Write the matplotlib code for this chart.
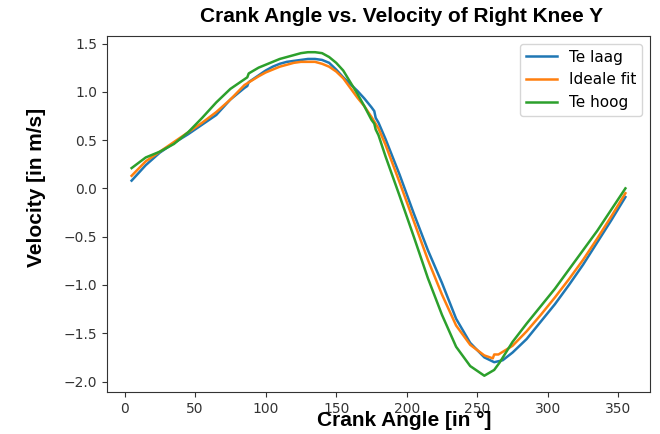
import matplotlib
matplotlib.use("Agg")
import matplotlib.pyplot as plt

# crank angle [deg] and knee velocity [m/s]
angle_laag = [5, 15, 25, 35, 45, 55, 65, 75, 85, 87, 88, 95, 100, 105, 110, 115, 120,
              125, 130, 135, 140, 145, 150, 155, 160, 165, 170, 175, 177, 178, 180,
              185, 195, 205, 215, 225, 235, 245, 255, 262, 268, 275, 285, 295, 305,
              315, 325, 335, 345, 355]
vel_laag = [0.08, 0.24, 0.37, 0.47, 0.56, 0.66, 0.76, 0.92, 1.04, 1.06, 1.10, 1.17,
            1.22, 1.26, 1.29, 1.31, 1.32, 1.33, 1.34, 1.34, 1.33, 1.30, 1.23, 1.15,
            1.08, 1.01, 0.93, 0.84, 0.80, 0.73, 0.68, 0.51, 0.14, -0.26, -0.64,
            -0.98, -1.35, -1.60, -1.75, -1.80, -1.78, -1.70, -1.56, -1.38, -1.20,
            -1.00, -0.79, -0.56, -0.33, -0.09]

angle_ideaal = [5, 15, 25, 35, 45, 55, 65, 75, 85, 95, 100, 105, 110, 115, 120, 125,
                130, 135, 140, 145, 150, 155, 160, 165, 170, 175, 180, 185, 195, 205,
                215, 225, 235, 245, 255, 261, 262, 265, 275, 285, 295, 305, 315, 325,
                335, 345, 355]
vel_ideaal = [0.13, 0.28, 0.38, 0.48, 0.58, 0.68, 0.79, 0.92, 1.07, 1.16, 1.20, 1.23,
              1.26, 1.28, 1.30, 1.31, 1.31, 1.31, 1.29, 1.26, 1.21, 1.14, 1.04, 0.94,
              0.85, 0.74, 0.62, 0.45, 0.06, -0.34, -0.74, -1.10, -1.42, -1.62,
              -1.73, -1.76, -1.72, -1.72, -1.63, -1.48, -1.31, -1.13, -0.94, -0.74,
              -0.52, -0.29, -0.05]

angle_hoog = [5, 15, 25, 35, 45, 55, 65, 75, 85, 87, 88, 95, 100, 105, 110, 115, 120,
              125, 130, 135, 140, 145, 150, 155, 160, 165, 170, 175, 177, 178, 180,
              185, 195, 205, 215, 225, 235, 245, 255, 262, 266, 275, 285, 295, 305,
              315, 325, 335, 345, 355]
vel_hoog = [0.21, 0.32, 0.38, 0.46, 0.58, 0.73, 0.89, 1.03, 1.13, 1.15, 1.19, 1.25,
            1.28, 1.31, 1.34, 1.36, 1.38, 1.40, 1.41, 1.41, 1.40, 1.36, 1.30, 1.22,
            1.10, 0.98, 0.85, 0.71, 0.67, 0.61, 0.55, 0.33, -0.08, -0.50, -0.93,
            -1.31, -1.64, -1.84, -1.94, -1.88, -1.80, -1.59, -1.40, -1.22, -1.04,
            -0.84, -0.64, -0.44, -0.22, 0.00]

labels = ["Te laag", "Ideale fit", "Te hoog"]

fig = plt.figure(figsize=(6.6, 4.34), dpi=100)
ax = fig.add_axes([0.162, 0.097, 0.823, 0.820])

ax.plot(angle_laag, vel_laag, color="#1f77b4", lw=1.8, label=labels[0])
ax.plot(angle_ideaal, vel_ideaal, color="#ff7f0e", lw=1.8, label=labels[1])
ax.plot(angle_hoog, vel_hoog, color="#2ca02c", lw=1.8, label=labels[2])

ax.set_xticks([0, 50, 100, 150, 200, 250, 300, 350])
ax.set_yticks([1.5, 1.0, 0.5, 0.0, -0.5, -1.0, -1.5, -2.0])
ax.tick_params(labelsize=10, colors="#333333")
for sp in ax.spines.values():
    sp.set_color("#333333")

bold = dict(family=["Liberation Sans", "DejaVu Sans"], weight="bold", size=15)
fig.text(402 / 660, 1 - 17 / 434, "Crank Angle vs. Velocity of Right Knee Y",
         ha="center", va="center", **bold)
fig.text(404 / 660, 1 - 421 / 434, "Crank Angle [in °]",
         ha="center", va="center", **bold)
fig.text(37 / 660, 1 - 187 / 434, "Velocity [in m/s]",
         ha="center", va="center", rotation=90, **bold)

ax.legend(loc="upper right", fontsize=11)

fig.savefig("out.png", dpi=100)
